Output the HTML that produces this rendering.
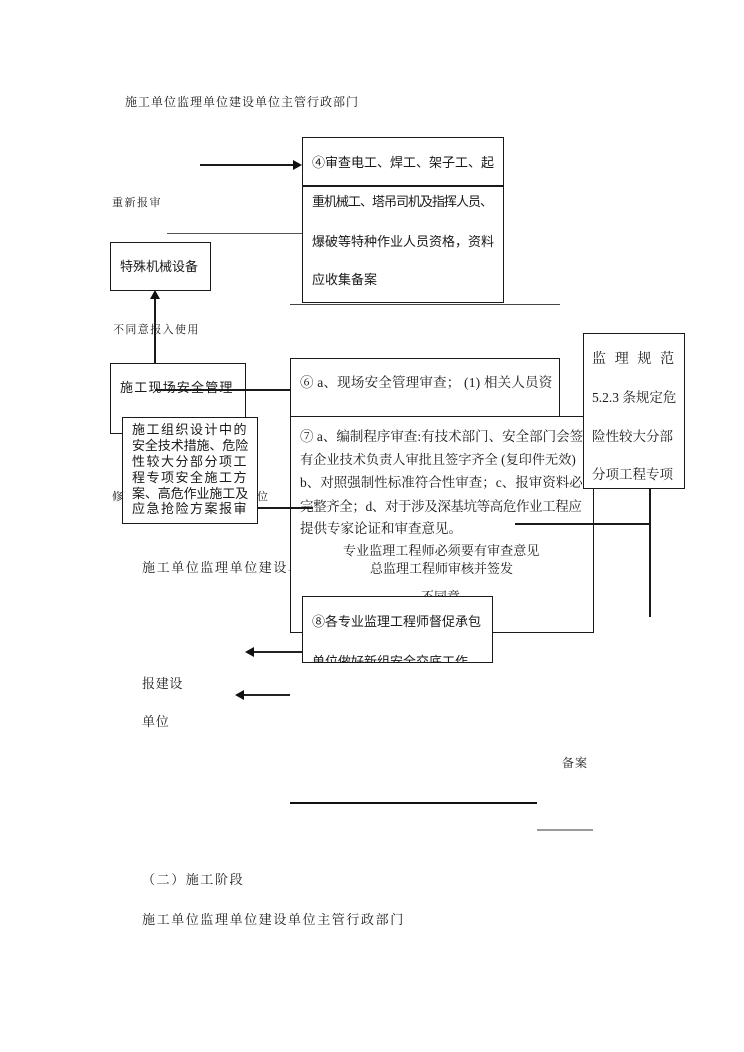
<!DOCTYPE html>
<html>
<head>
<meta charset="utf-8">
<style>
  html,body{margin:0;padding:0;background:#fff;}
  #pg{position:relative;width:744px;height:1052px;overflow:hidden;background:#fff;}
  .t{position:absolute;white-space:nowrap;line-height:20px;height:20px;color:#1a1a1a;}
  .sf{font-family:"Liberation Serif","Noto Serif CJK SC",serif;}
  .ss{font-family:"Liberation Sans","Noto Sans CJK SC",sans-serif;}
  .b{position:absolute;box-sizing:border-box;border:1.5px solid #1a1a1a;background:#fff;}
  .l{position:absolute;background:#1a1a1a;}
  svg.a{position:absolute;overflow:visible;}
</style>
</head>
<body>
<div id="pg">

  <!-- background labels -->
  <div class="t sf" style="left:125px;top:92px;font-size:12px;letter-spacing:1px;">施工单位监理单位建设单位主管行政部门</div>
  <div class="t sf" style="left:112px;top:193px;font-size:11px;letter-spacing:1.5px;">重新报审</div>
  <div class="t sf" style="left:113px;top:320px;font-size:11px;letter-spacing:1.4px;">不同意报入使用</div>
  <div class="t sf" style="left:112px;top:487px;font-size:11px;">修</div>
  <div class="t sf" style="left:257px;top:487px;font-size:11px;">位</div>
  <div class="t sf" style="left:142px;top:558px;font-size:13px;letter-spacing:1.6px;">施工单位监理单位建设单位</div>
  <div class="t sf" style="left:142px;top:674px;font-size:13px;letter-spacing:0.7px;">报建设</div>
  <div class="t sf" style="left:142px;top:712px;font-size:13px;letter-spacing:0.7px;">单位</div>
  <div class="t sf" style="left:562px;top:753px;font-size:12px;letter-spacing:1px;">备案</div>
  <div class="t sf" style="left:142px;top:870px;font-size:13px;letter-spacing:1.6px;">（二）施工阶段</div>
  <div class="t sf" style="left:142px;top:910px;font-size:13px;letter-spacing:1.6px;">施工单位监理单位建设单位主管行政部门</div>

  <!-- plain lines behind boxes -->
  <div class="l" style="left:167px;top:233px;width:135px;height:1px;background:#555;"></div>
  <div class="l" style="left:290px;top:304px;width:270px;height:1px;background:#444;"></div>
  <div class="l" style="left:290px;top:802px;width:247px;height:2px;background:#111;"></div>
  <div class="l" style="left:537px;top:829px;width:56px;height:2px;background:#9a9a9a;"></div>

  <!-- arrow to box 4 -->
  <div class="l" style="left:200px;top:164px;width:94px;height:1.5px;"></div>
  <svg class="a" style="left:293px;top:160px;" width="10" height="10"><polygon points="0,0 9,5 0,10" fill="#111"/></svg>

  <!-- box 4 -->
  <div class="b" style="left:302px;top:137px;width:202px;height:166px;"></div>
  <div class="l" style="left:302px;top:185px;width:202px;height:1.5px;"></div>
  <div class="t ss" style="left:312px;top:153px;font-size:13px;">④审查电工、焊工、架子工、起</div>
  <div class="t ss" style="left:312px;top:192px;font-size:13px;letter-spacing:-1px;">重机械工、塔吊司机及指挥人员、</div>
  <div class="t ss" style="left:312px;top:232px;font-size:13px;">爆破等特种作业人员资格，资料</div>
  <div class="t ss" style="left:312px;top:270px;font-size:13px;">应收集备案</div>

  <!-- special equipment box -->
  <div class="b" style="left:110px;top:242px;width:101px;height:49px;"></div>
  <div class="t ss" style="left:120px;top:257px;font-size:13px;">特殊机械设备</div>

  <!-- vertical arrow up -->
  <div class="l" style="left:154px;top:299px;width:1.5px;height:64px;"></div>
  <svg class="a" style="left:150px;top:290px;" width="10" height="10"><polygon points="5,0 10,9 0,9" fill="#111"/></svg>

  <!-- site safety management box -->
  <div class="b" style="left:110px;top:363px;width:136px;height:71px;"></div>
  <div class="t ss" style="left:120px;top:378px;font-size:13px;letter-spacing:1.2px;">施工现场安全管理</div>
  <div class="l" style="left:155px;top:389px;width:135px;height:1.5px;"></div>

  <!-- inner box -->
  <div class="b" style="left:122px;top:417px;width:136px;height:107px;"></div>
  <div class="t ss" style="left:132px;top:420px;font-size:13px;letter-spacing:1.5px;">施工组织设计中的</div>
  <div class="t ss" style="left:132px;top:436px;font-size:13px;letter-spacing:-0.1px;">安全技术措施、危险</div>
  <div class="t ss" style="left:132px;top:452px;font-size:13px;letter-spacing:1.5px;">性较大分部分项工</div>
  <div class="t ss" style="left:132px;top:468px;font-size:13px;letter-spacing:1.5px;">程专项安全施工方</div>
  <div class="t ss" style="left:132px;top:484px;font-size:13px;letter-spacing:-0.1px;">案、高危作业施工及</div>
  <div class="t ss" style="left:132px;top:499px;font-size:13px;letter-spacing:1.5px;">应急抢险方案报审</div>

  <!-- box 6 -->
  <div class="b" style="left:290px;top:358px;width:270px;height:60px;"></div>
  <div class="t sf" style="left:300px;top:373px;font-size:13.5px;letter-spacing:0.2px;">⑥ a、现场安全管理审查； (1) 相关人员资</div>

  <!-- box 7 -->
  <div class="b" style="left:290px;top:416px;width:304px;height:217px;"></div>
  <div class="t sf" style="left:300px;top:427px;font-size:13.5px;">⑦ a、编制程序审查:有技术部门、安全部门会签</div>
  <div class="t sf" style="left:300px;top:450px;font-size:13.2px;">有企业技术负责人审批且签字齐全 (复印件无效)</div>
  <div class="t sf" style="left:300px;top:473px;font-size:13.5px;">b、对照强制性标准符合性审查；c、报审资料必须</div>
  <div class="t sf" style="left:300px;top:497px;font-size:13.5px;letter-spacing:-0.4px;">完整齐全；d、对于涉及深基坑等高危作业工程应</div>
  <div class="t sf" style="left:300px;top:519px;font-size:13.5px;">提供专家论证和审查意见。</div>
  <div class="t sf" style="left:343px;top:541px;font-size:13px;letter-spacing:0.1px;">专业监理工程师必须要有审查意见</div>
  <div class="t sf" style="left:370px;top:559px;font-size:13px;">总监理工程师审核并签发</div>
  <div class="t sf" style="left:421px;top:587px;font-size:13px;">不同意</div>

  <!-- connectors over box 7 -->
  <div class="l" style="left:257px;top:507px;width:56px;height:1.5px;"></div>
  <div class="l" style="left:515px;top:523px;width:136px;height:1.5px;"></div>
  <div class="l" style="left:649px;top:488px;width:1.5px;height:129px;"></div>

  <!-- regulation box -->
  <div class="b" style="left:583px;top:333px;width:102px;height:156px;"></div>
  <div class="t sf" style="left:592px;top:350px;font-size:14px;letter-spacing:8.7px;">监理规范</div>
  <div class="t sf" style="left:592px;top:388px;font-size:13.5px;">5.2.3 条规定危</div>
  <div class="t sf" style="left:592px;top:427px;font-size:13.5px;">险性较大分部</div>
  <div class="t sf" style="left:592px;top:465px;font-size:13.5px;">分项工程专项</div>

  <!-- box 8 -->
  <div class="b" style="left:302px;top:596px;width:191px;height:67px;overflow:hidden;">
    <div class="t ss" style="left:9px;top:15px;font-size:13px;">⑧各专业监理工程师督促承包</div>
    <div class="t ss" style="left:9px;top:55px;font-size:13px;">单位做好新组安全交底工作</div>
  </div>

  <!-- left arrows -->
  <div class="l" style="left:252px;top:651px;width:50px;height:2px;background:#222;"></div>
  <svg class="a" style="left:245px;top:647px;" width="10" height="10"><polygon points="0,5 9,0 9,10" fill="#111"/></svg>
  <div class="l" style="left:242px;top:694px;width:48px;height:2px;background:#222;"></div>
  <svg class="a" style="left:235px;top:690px;" width="10" height="10"><polygon points="0,5 9,0 9,10" fill="#111"/></svg>

</div>
</body>
</html>
